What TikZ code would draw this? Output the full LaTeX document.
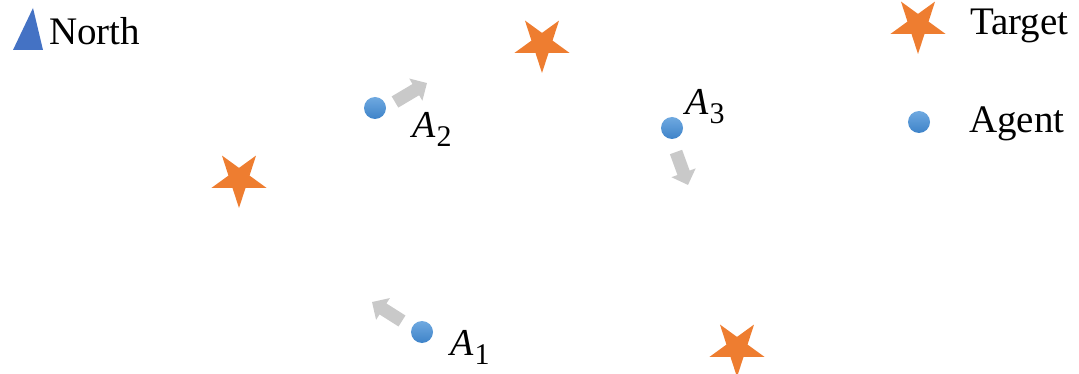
\documentclass[tikz,border=0pt]{standalone}
\usepackage{fontspec}
\setmainfont{Liberation Serif}
\usetikzlibrary{shapes.geometric,arrows.meta}
\definecolor{starc}{HTML}{EE7D30}
\definecolor{agtop}{HTML}{6FA9E0}
\definecolor{agbot}{HTML}{3E83C9}
\definecolor{northc}{HTML}{4472C4}
\definecolor{headc}{HTML}{C9C9C9}
\newcommand{\agentname}[1]{\textit{A}\hspace{1pt}\raisebox{-9pt}{\fontsize{30}{30}\selectfont #1}}
\tikzset{
  target/.style={star, star points=5, star point ratio=2.618, shape border rotate=180,
    minimum size=58pt, inner sep=0pt, fill=starc, draw=none},
  agent/.style={circle, minimum size=22pt, inner sep=0pt, top color=agtop, bottom color=agbot, draw=none},
  heading/.style={headc, line width=13pt, -{Triangle[width=25pt,length=13pt]}},
  lbl/.style={inner sep=0pt, anchor=base west, font=\fontsize{39}{42}\selectfont},
  mlbl/.style={inner sep=0pt, anchor=base west, font=\fontsize{38}{40}\selectfont}
}
\begin{document}
\begin{tikzpicture}[x=1pt,y=-1pt]
\useasboundingbox (0,0) rectangle (1079,374);
% north legend
\fill[northc] (33,8) -- (43,50) -- (13,50) -- cycle;
\node[lbl] (north) at (49,45) {North};
% legend
\node[target] (lt) at (918,25) {};
\node[lbl] (ltt) at (970,35) {Target};
\node[agent] (la) at (919,122) {};
\node[lbl] (lat) at (969,133) {Agent};
% targets
\node[target] (t1) at (542,44) {};
\node[target] (t2) at (239,179) {};
\node[target] (t3) at (737,348) {};
% agents
\node[agent] (a1) at (422,332) {};
\node[agent] (a2) at (375,108) {};
\node[agent] (a3) at (672,128) {};
\node[mlbl] (l1) at (450,355) {\agentname{1}};
\node[mlbl] (l2) at (412,138) {\agentname{2}};
\node[mlbl] (l3) at (685,115) {\agentname{3}};
% headings
\coordinate (h1s) at (402,321);
\coordinate (h1e) at (372,302);
\coordinate (h2s) at (395,102);
\coordinate (h2e) at (427,83);
\coordinate (h3s) at (676,152);
\coordinate (h3e) at (688,185);
\draw[heading] (h1s) -- (h1e);
\draw[heading] (h2s) -- (h2e);
\draw[heading] (h3s) -- (h3e);
\end{tikzpicture}
\end{document}
